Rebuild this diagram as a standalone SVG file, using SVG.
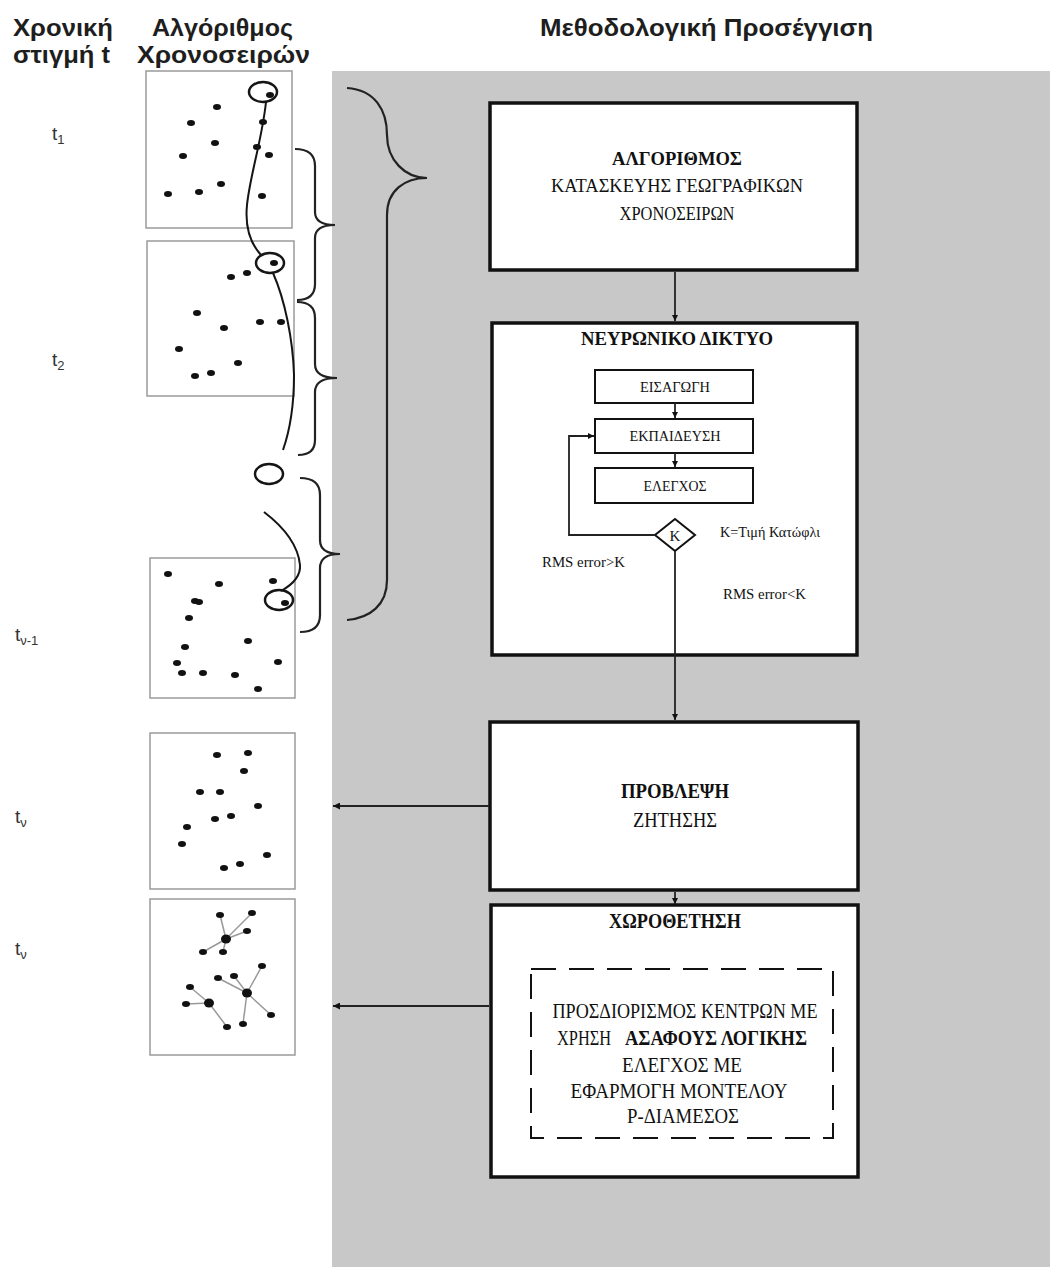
<svg xmlns="http://www.w3.org/2000/svg" width="1050" height="1267" viewBox="0 0 1050 1267">
<style>
.hdr{font-family:"Liberation Sans",Arial,sans-serif;font-weight:bold;font-size:24px;fill:#1e1e1e}
.tl{font-family:"Liberation Sans",Arial,sans-serif;font-size:19px;fill:#333}
.tls{font-family:"Liberation Sans",Arial,sans-serif;font-size:13px;fill:#333}
.panel{fill:#fff;stroke:#9a9a9a;stroke-width:1.5}
.dot{fill:#111}
.curve{fill:none;stroke:#151515;stroke-width:2}
.ring{fill:none;stroke:#151515;stroke-width:2.5}
.brace{fill:none;stroke:#222;stroke-width:2.2}
.box{fill:#fff;stroke:#111;stroke-width:3.5}
.ibox{fill:#fff;stroke:#111;stroke-width:2}
.sf{font-family:"Liberation Serif","Times New Roman",serif;fill:#111;text-anchor:middle}
.sfl{font-family:"Liberation Serif","Times New Roman",serif;fill:#111}
.b{font-weight:bold}
.con{fill:none;stroke:#222;stroke-width:1.8}
.lk{stroke:#999;stroke-width:1.5}
</style>
<defs>
<marker id="ah" viewBox="0 0 10 10" refX="10" refY="5" markerWidth="8" markerHeight="7" markerUnits="userSpaceOnUse" orient="auto">
<path d="M0,0 L10,5 L0,10 z" fill="#111"/>
</marker>
<marker id="ahs" viewBox="0 0 10 10" refX="10" refY="5" markerWidth="6" markerHeight="6" markerUnits="userSpaceOnUse" orient="auto">
<path d="M0,0 L10,5 L0,10 z" fill="#111"/>
</marker>
</defs>
<rect width="1050" height="1267" fill="#fff"/>
<rect x="332" y="71" width="718" height="1196" fill="#c8c8c8"/>

<g id="headers">
<text class="hdr" x="13" y="36" textLength="100" lengthAdjust="spacingAndGlyphs">Χρονική</text>
<text class="hdr" x="13" y="63" textLength="97" lengthAdjust="spacingAndGlyphs">στιγμή t</text>
<text class="hdr" x="152" y="36" textLength="141" lengthAdjust="spacingAndGlyphs">Αλγόριθμος</text>
<text class="hdr" x="137" y="63" textLength="173" lengthAdjust="spacingAndGlyphs">Χρονοσειρών</text>
<text class="hdr" x="540" y="36" textLength="333" lengthAdjust="spacingAndGlyphs">Μεθοδολογική Προσέγγιση</text>
</g>

<g id="time-labels">
<text class="tl" x="52" y="140">t<tspan class="tls" dy="4">1</tspan></text>
<text class="tl" x="52" y="366">t<tspan class="tls" dy="4">2</tspan></text>
<text class="tl" x="15" y="641">t<tspan class="tls" dy="4">ν-1</tspan></text>
<text class="tl" x="15" y="823">t<tspan class="tls" dy="4">ν</tspan></text>
<text class="tl" x="15" y="955">t<tspan class="tls" dy="4">ν</tspan></text>
</g>

<g id="panel-1">
<rect class="panel" x="146" y="71" width="146" height="157"/>
<ellipse class="dot" cx="217" cy="107" rx="4" ry="3"/>
<ellipse class="dot" cx="191" cy="123" rx="4" ry="3"/>
<ellipse class="dot" cx="263" cy="122" rx="4" ry="3"/>
<ellipse class="dot" cx="215" cy="143" rx="4" ry="3"/>
<ellipse class="dot" cx="257" cy="147" rx="4" ry="3"/>
<ellipse class="dot" cx="269" cy="155" rx="4" ry="3"/>
<ellipse class="dot" cx="183" cy="156" rx="4" ry="3"/>
<ellipse class="dot" cx="221" cy="184" rx="4" ry="3"/>
<ellipse class="dot" cx="199" cy="192" rx="4" ry="3"/>
<ellipse class="dot" cx="168" cy="194" rx="4" ry="3"/>
<ellipse class="dot" cx="262" cy="196" rx="4" ry="3"/>
<ellipse class="dot" cx="270" cy="95" rx="4" ry="3"/>
</g>

<g id="panel-2">
<rect class="panel" x="147" y="241" width="147" height="155"/>
<ellipse class="dot" cx="231" cy="277" rx="4" ry="3"/>
<ellipse class="dot" cx="247" cy="273" rx="4" ry="3"/>
<ellipse class="dot" cx="197" cy="313" rx="4" ry="3"/>
<ellipse class="dot" cx="224" cy="328" rx="4" ry="3"/>
<ellipse class="dot" cx="260" cy="322" rx="4" ry="3"/>
<ellipse class="dot" cx="281" cy="322" rx="4" ry="3"/>
<ellipse class="dot" cx="179" cy="349" rx="4" ry="3"/>
<ellipse class="dot" cx="238" cy="363" rx="4" ry="3"/>
<ellipse class="dot" cx="195" cy="376" rx="4" ry="3"/>
<ellipse class="dot" cx="211" cy="373" rx="4" ry="3"/>
<ellipse class="dot" cx="274" cy="263" rx="4" ry="3"/>
</g>

<g id="panel-3">
<rect class="panel" x="150" y="558" width="145" height="140"/>
<ellipse class="dot" cx="168" cy="574" rx="4" ry="3"/>
<ellipse class="dot" cx="219" cy="584" rx="4" ry="3"/>
<ellipse class="dot" cx="273" cy="581" rx="4" ry="3"/>
<ellipse class="dot" cx="195" cy="601" rx="4" ry="3"/>
<ellipse class="dot" cx="199" cy="602" rx="4" ry="3"/>
<ellipse class="dot" cx="189" cy="618" rx="4" ry="3"/>
<ellipse class="dot" cx="248" cy="641" rx="4" ry="3"/>
<ellipse class="dot" cx="185" cy="647" rx="4" ry="3"/>
<ellipse class="dot" cx="177" cy="663" rx="4" ry="3"/>
<ellipse class="dot" cx="278" cy="662" rx="4" ry="3"/>
<ellipse class="dot" cx="182" cy="673" rx="4" ry="3"/>
<ellipse class="dot" cx="203" cy="673" rx="4" ry="3"/>
<ellipse class="dot" cx="235" cy="675" rx="4" ry="3"/>
<ellipse class="dot" cx="258" cy="689" rx="4" ry="3"/>
<ellipse class="dot" cx="285" cy="603" rx="4" ry="3"/>
</g>

<g id="panel-4">
<rect class="panel" x="150" y="733" width="145" height="156"/>
<ellipse class="dot" cx="217" cy="755" rx="4" ry="3"/>
<ellipse class="dot" cx="248" cy="753" rx="4" ry="3"/>
<ellipse class="dot" cx="244" cy="771" rx="4" ry="3"/>
<ellipse class="dot" cx="200" cy="792" rx="4" ry="3"/>
<ellipse class="dot" cx="220" cy="792" rx="4" ry="3"/>
<ellipse class="dot" cx="258" cy="806" rx="4" ry="3"/>
<ellipse class="dot" cx="215" cy="819" rx="4" ry="3"/>
<ellipse class="dot" cx="231" cy="816" rx="4" ry="3"/>
<ellipse class="dot" cx="187" cy="827" rx="4" ry="3"/>
<ellipse class="dot" cx="182" cy="844" rx="4" ry="3"/>
<ellipse class="dot" cx="267" cy="855" rx="4" ry="3"/>
<ellipse class="dot" cx="224" cy="868" rx="4" ry="3"/>
<ellipse class="dot" cx="240" cy="864" rx="4" ry="3"/>
</g>

<g id="panel-5">
<rect class="panel" x="150" y="899" width="145" height="156"/>
<g class="lk">
<line x1="226" y1="939" x2="220" y2="915"/>
<line x1="226" y1="939" x2="252" y2="913"/>
<line x1="226" y1="939" x2="247" y2="931"/>
<line x1="226" y1="939" x2="203" y2="952"/>
<line x1="226" y1="939" x2="223" y2="952"/>
<line x1="247" y1="993" x2="262" y2="966"/>
<line x1="247" y1="993" x2="218" y2="978"/>
<line x1="247" y1="993" x2="234" y2="976"/>
<line x1="247" y1="993" x2="271" y2="1015"/>
<line x1="247" y1="993" x2="243" y2="1024"/>
<line x1="209" y1="1003" x2="190" y2="987"/>
<line x1="209" y1="1003" x2="186" y2="1004"/>
<line x1="209" y1="1003" x2="227" y2="1027"/>
</g>
<ellipse class="dot" cx="220" cy="915" rx="4" ry="3"/>
<ellipse class="dot" cx="252" cy="913" rx="4" ry="3"/>
<ellipse class="dot" cx="247" cy="931" rx="4" ry="3"/>
<ellipse class="dot" cx="203" cy="952" rx="4" ry="3"/>
<ellipse class="dot" cx="223" cy="952" rx="4" ry="3"/>
<ellipse class="dot" cx="262" cy="966" rx="4" ry="3"/>
<ellipse class="dot" cx="218" cy="978" rx="4" ry="3"/>
<ellipse class="dot" cx="234" cy="976" rx="4" ry="3"/>
<ellipse class="dot" cx="190" cy="987" rx="4" ry="3"/>
<ellipse class="dot" cx="186" cy="1004" rx="4" ry="3"/>
<ellipse class="dot" cx="271" cy="1015" rx="4" ry="3"/>
<ellipse class="dot" cx="243" cy="1024" rx="4" ry="3"/>
<ellipse class="dot" cx="227" cy="1027" rx="4" ry="3"/>
<ellipse class="dot" cx="226" cy="939" rx="5" ry="4.5"/>
<ellipse class="dot" cx="247" cy="993" rx="5" ry="4.5"/>
<ellipse class="dot" cx="209" cy="1003" rx="5" ry="4.5"/>
</g>

<g id="trajectory">
<ellipse class="ring" cx="263" cy="92" rx="14" ry="10"/>
<ellipse class="ring" cx="270" cy="263" rx="14" ry="10"/>
<ellipse class="ring" cx="269" cy="474" rx="14" ry="10"/>
<ellipse class="ring" cx="279" cy="600" rx="14" ry="10"/>
<path class="curve" d="M266,102 C262,140 250,175 247,205 C245,225 250,243 261,255"/>
<path class="curve" d="M273,273 C285,300 293,340 294,375 C294,405 290,430 283,450"/>
<path class="curve" d="M264,512 C285,528 298,545 300,565 C301,578 290,586 281,591"/>
</g>

<g id="braces">
<path class="brace" d="M295,149 Q315,149 315,166 L315,212 Q315,225 335,225 Q315,225 315,238 L315,284 Q315,300 297,300"/>
<path class="brace" d="M297,302 Q315,302 315,318 L315,364 Q315,378 337,378 Q315,378 315,392 L315,440 Q315,455 298,455"/>
<path class="brace" d="M300,478 Q320,478 320,495 L320,540 Q320,554 340,554 Q320,554 320,568 L320,615 Q320,632 300,632"/>
<path class="brace" d="M347,88 C375,90 387,110 387,135 C387,160 405,178 427,178 C405,178 387,190 387,215 L387,580 C387,605 370,618 347,620"/>
</g>

<g id="box-algorithm">
<rect class="box" x="490" y="103" width="367" height="167"/>
<text class="sf b" x="677" y="165" font-size="19" textLength="130" lengthAdjust="spacingAndGlyphs">ΑΛΓΟΡΙΘΜΟΣ</text>
<text class="sf" x="677" y="192" font-size="19" textLength="252" lengthAdjust="spacingAndGlyphs">ΚΑΤΑΣΚΕΥΗΣ ΓΕΩΓΡΑΦΙΚΩΝ</text>
<text class="sf" x="677" y="220" font-size="19" textLength="115" lengthAdjust="spacingAndGlyphs">ΧΡΟΝΟΣΕΙΡΩΝ</text>
</g>

<g id="box-neural">
<rect class="box" x="492" y="323" width="365" height="332"/>
<text class="sf b" x="677" y="345" font-size="19" textLength="192" lengthAdjust="spacingAndGlyphs">ΝΕΥΡΩΝΙΚΟ ΔΙΚΤΥΟ</text>
<g id="nn-input">
<rect class="ibox" x="595" y="370" width="158" height="33"/>
<text class="sf" x="675" y="392" font-size="15" textLength="70" lengthAdjust="spacingAndGlyphs">ΕΙΣΑΓΩΓΗ</text>
</g>
<g id="nn-training">
<rect class="ibox" x="595" y="419" width="158" height="34"/>
<text class="sf" x="675" y="441" font-size="15" textLength="91" lengthAdjust="spacingAndGlyphs">ΕΚΠΑΙΔΕΥΣΗ</text>
</g>
<g id="nn-test">
<rect class="ibox" x="595" y="468" width="158" height="35"/>
<text class="sf" x="675" y="491" font-size="15" textLength="63" lengthAdjust="spacingAndGlyphs">ΕΛΕΓΧΟΣ</text>
</g>
<g id="nn-decision">
<path class="ibox" d="M675,519 L695,535 L675,551 L655,535 Z"/>
<text class="sf" x="675" y="541" font-size="15">K</text>
</g>
<text class="sfl" x="720" y="537" font-size="14" textLength="100" lengthAdjust="spacingAndGlyphs">K=Τιμή Κατώφλι</text>
<text class="sfl" x="542" y="567" font-size="14" textLength="83" lengthAdjust="spacingAndGlyphs">RMS error&gt;K</text>
<text class="sfl" x="723" y="599" font-size="14" textLength="83" lengthAdjust="spacingAndGlyphs">RMS error&lt;K</text>
</g>

<g id="box-forecast">
<rect class="box" x="490" y="722" width="368" height="168"/>
<text class="sf b" x="675" y="798" font-size="20" textLength="108" lengthAdjust="spacingAndGlyphs">ΠΡΟΒΛΕΨΗ</text>
<text class="sf" x="675" y="827" font-size="20" textLength="84" lengthAdjust="spacingAndGlyphs">ΖΗΤΗΣΗΣ</text>
</g>

<g id="box-location">
<rect class="box" x="491" y="905" width="367" height="272"/>
<text class="sf b" x="675" y="928" font-size="20" textLength="132" lengthAdjust="spacingAndGlyphs">ΧΩΡΟΘΕΤΗΣΗ</text>
<rect x="531" y="969" width="302" height="169" fill="none" stroke="#111" stroke-width="2" stroke-dasharray="25,13"/>
<text class="sf" x="685" y="1018" font-size="20" textLength="265" lengthAdjust="spacingAndGlyphs">ΠΡΟΣΔΙΟΡΙΣΜΟΣ ΚΕΝΤΡΩΝ ΜΕ</text>
<text class="sfl" x="557" y="1045" font-size="20" textLength="54" lengthAdjust="spacingAndGlyphs">ΧΡΗΣΗ</text>
<text class="sfl b" x="625" y="1045" font-size="20" textLength="182" lengthAdjust="spacingAndGlyphs">ΑΣΑΦΟΥΣ ΛΟΓΙΚΗΣ</text>
<text class="sf" x="682" y="1072" font-size="20" textLength="120" lengthAdjust="spacingAndGlyphs">ΕΛΕΓΧΟΣ ΜΕ</text>
<text class="sf" x="679" y="1098" font-size="20" textLength="217" lengthAdjust="spacingAndGlyphs">ΕΦΑΡΜΟΓΗ ΜΟΝΤΕΛΟΥ</text>
<text class="sf" x="683" y="1123" font-size="20" textLength="112" lengthAdjust="spacingAndGlyphs">Ρ-ΔΙΑΜΕΣΟΣ</text>
</g>

<g id="connectors">
<line class="con" x1="675" y1="272" x2="675" y2="321" marker-end="url(#ahs)"/>
<line class="con" x1="675" y1="403" x2="675" y2="418" marker-end="url(#ahs)"/>
<line class="con" x1="675" y1="453" x2="675" y2="467" marker-end="url(#ahs)"/>
<polyline class="con" points="655,535 569,535 569,436 594,436" marker-end="url(#ahs)"/>
<line class="con" x1="675" y1="551" x2="675" y2="720" marker-end="url(#ahs)"/>
<line class="con" x1="675" y1="892" x2="675" y2="904" marker-end="url(#ahs)"/>
<line class="con" x1="489" y1="806" x2="333" y2="806" marker-end="url(#ah)"/>
<line class="con" x1="489" y1="1006" x2="333" y2="1006" marker-end="url(#ah)"/>
</g>
</svg>
